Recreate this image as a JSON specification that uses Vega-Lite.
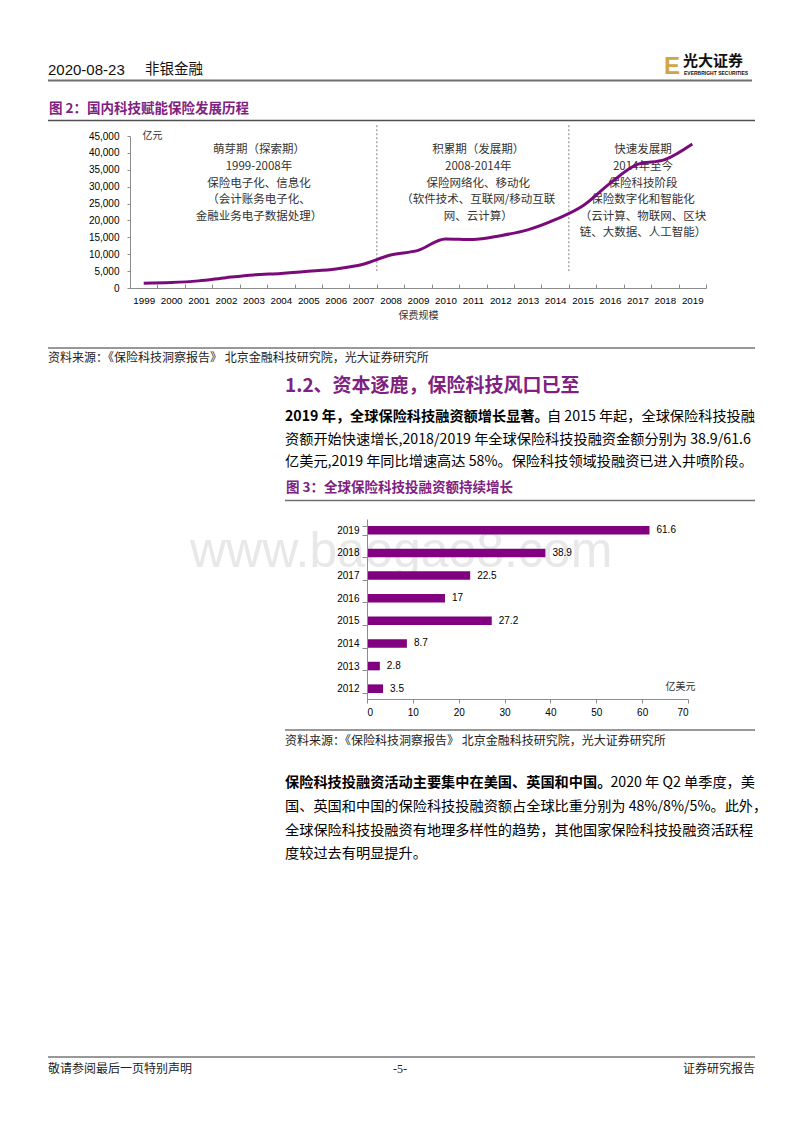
{
"$schema": "https://vega.github.io/schema/vega-lite/v6.json",
"width": 800,
"height": 1132,
"autosize": {"type": "none"},
"padding": 0,
"background": "#ffffff",
"config": {
  "view": {"stroke": null},
  "font": "Noto Sans CJK SC",
  "text": {"font": "Noto Sans CJK SC"},
  "axis": {"labelFont": "Liberation Sans", "titleFont": "Noto Sans CJK SC", "grid": false, "labelColor": "#000000", "titleColor": "#333333", "domainColor": "#8c8c8c", "tickColor": "#8c8c8c", "titleFontWeight": "normal"}
},
"datasets": {
  "premium": [
    {"year": 1999, "premium": 1393}, {"year": 2000, "premium": 1596}, {"year": 2001, "premium": 2109},
    {"year": 2002, "premium": 3053}, {"year": 2003, "premium": 3880}, {"year": 2004, "premium": 4318},
    {"year": 2005, "premium": 4927}, {"year": 2006, "premium": 5641}, {"year": 2007, "premium": 7035},
    {"year": 2008, "premium": 9784}, {"year": 2009, "premium": 11137}, {"year": 2010, "premium": 14528},
    {"year": 2011, "premium": 14339}, {"year": 2012, "premium": 15488}, {"year": 2013, "premium": 17222},
    {"year": 2014, "premium": 20235}, {"year": 2015, "premium": 24283}, {"year": 2016, "premium": 30959},
    {"year": 2017, "premium": 36581}, {"year": 2018, "premium": 38017}, {"year": 2019, "premium": 42645}
  ],
  "phases": [
    {"year": 2003, "lines": ["萌芽期（探索期）", "1999-2008年", "保险电子化、信息化", "（会计账务电子化、", "金融业务电子数据处理）"]},
    {"year": 2011, "lines": ["积累期（发展期）", "2008-2014年", "保险网络化、移动化", "（软件技术、互联网/移动互联", "网、云计算）"]},
    {"year": 2017, "lines": ["快速发展期", "2014年至今", "保险科技阶段", "保险数字化和智能化", "（云计算、物联网、区块", "链、大数据、人工智能）"]}
  ],
  "boundaries": [{"year": 2008}, {"year": 2015}],
  "funding": [
    {"year": 2012, "amount": 3.5}, {"year": 2013, "amount": 2.8}, {"year": 2014, "amount": 8.7},
    {"year": 2015, "amount": 27.2}, {"year": 2016, "amount": 17}, {"year": 2017, "amount": 22.5},
    {"year": 2018, "amount": 38.9}, {"year": 2019, "amount": 61.6}
  ]
},
"layer": [
  {"data": {"values": [{"t": "2020-08-23"}]}, "mark": {"type": "text", "align": "left", "baseline": "alphabetic", "font": "Liberation Sans", "fontSize": 15, "color": "#111111"}, "encoding": {"text": {"field": "t"}, "x": {"value": 48}, "y": {"value": 75}}},
  {"data": {"values": [{"t": "非银金融"}]}, "mark": {"type": "text", "align": "left", "baseline": "alphabetic", "fontSize": 14.5, "color": "#111111"}, "encoding": {"text": {"field": "t"}, "x": {"value": 145}, "y": {"value": 74}}},
  {"data": {"values": [{"t": "E"}]}, "mark": {"type": "text", "align": "left", "baseline": "alphabetic", "font": "Liberation Sans", "fontWeight": "bold", "fontSize": 24, "color": "#d1a544"}, "encoding": {"text": {"field": "t"}, "x": {"value": 664}, "y": {"value": 74}}},
  {"data": {"values": [{"t": "光大证券"}]}, "mark": {"type": "text", "align": "left", "baseline": "middle", "fontWeight": "bold", "fontSize": 15, "color": "#111111"}, "encoding": {"text": {"field": "t"}, "x": {"value": 683}, "y": {"value": 61}}},
  {"data": {"values": [{"t": "EVERBRIGHT SECURITIES"}]}, "mark": {"type": "text", "align": "left", "baseline": "middle", "font": "Liberation Sans", "fontWeight": "bold", "fontSize": 5, "color": "#111111"}, "encoding": {"text": {"field": "t"}, "x": {"value": 684}, "y": {"value": 72.5}}},
  {"data": {"values": [{"r": "header"}]}, "mark": {"type": "rule", "color": "#707070", "strokeWidth": 2}, "encoding": {"x": {"value": 48}, "x2": {"value": 752}, "y": {"value": 80.5}}},
  {"data": {"values": [{"t": "图 2：国内科技赋能保险发展历程"}]}, "mark": {"type": "text", "align": "left", "baseline": "middle", "fontWeight": "bold", "fontSize": 13.5, "color": "#7f2180"}, "encoding": {"text": {"field": "t"}, "x": {"value": 49}, "y": {"value": 108.5}}},
  {"data": {"values": [{"r": "fig2"}]}, "mark": {"type": "rule", "color": "#505050", "strokeWidth": 1.5}, "encoding": {"x": {"value": 48}, "x2": {"value": 755}, "y": {"value": 120.5}}},
  {"data": {"values": [{"r": "src1"}]}, "mark": {"type": "rule", "color": "#333333", "strokeWidth": 1}, "encoding": {"x": {"value": 48}, "x2": {"value": 755}, "y": {"value": 348}}},
  {"data": {"values": [{"t": "资料来源：《保险科技洞察报告》 北京金融科技研究院，光大证券研究所"}]}, "mark": {"type": "text", "align": "left", "baseline": "middle", "fontSize": 12, "color": "#222222"}, "encoding": {"text": {"field": "t"}, "x": {"value": 48}, "y": {"value": 358}}},
  {"data": {"values": [{"t": "1.2、资本逐鹿，保险科技风口已至"}]}, "mark": {"type": "text", "align": "left", "baseline": "middle", "fontWeight": "bold", "fontSize": 19, "color": "#7f2180"}, "encoding": {"text": {"field": "t"}, "x": {"value": 285}, "y": {"value": 386}}},
  {"data": {"values": [{"t": "2019 年，全球保险科技融资额增长显著。"}]}, "mark": {"type": "text", "align": "left", "baseline": "middle", "fontWeight": "bold", "fontSize": 14.2, "color": "#000000"}, "encoding": {"text": {"field": "t"}, "x": {"value": 285}, "y": {"value": 417}}},
  {"data": {"values": [{"t": "自 2015 年起，全球保险科技投融"}]}, "mark": {"type": "text", "align": "right", "baseline": "middle", "fontSize": 14.2, "color": "#000000"}, "encoding": {"text": {"field": "t"}, "x": {"value": 755}, "y": {"value": 417}}},
  {"data": {"values": [{"t": ["资额开始快速增长,2018/2019 年全球保险科技投融资金额分别为 38.9/61.6", "亿美元,2019 年同比增速高达 58%。保险科技领域投融资已进入井喷阶段。"]}]}, "mark": {"type": "text", "align": "left", "baseline": "top", "fontSize": 14.2, "lineHeight": 22, "color": "#000000"}, "encoding": {"text": {"field": "t"}, "x": {"value": 285}, "y": {"value": 433}}},
  {"data": {"values": [{"t": "图 3：全球保险科技投融资额持续增长"}]}, "mark": {"type": "text", "align": "left", "baseline": "middle", "fontWeight": "bold", "fontSize": 13.5, "color": "#7f2180"}, "encoding": {"text": {"field": "t"}, "x": {"value": 286}, "y": {"value": 487.5}}},
  {"data": {"values": [{"r": "fig3"}]}, "mark": {"type": "rule", "color": "#707070", "strokeWidth": 1.5}, "encoding": {"x": {"value": 285}, "x2": {"value": 755}, "y": {"value": 500.5}}},
  {"data": {"values": [{"r": "src2"}]}, "mark": {"type": "rule", "color": "#333333", "strokeWidth": 1}, "encoding": {"x": {"value": 285}, "x2": {"value": 755}, "y": {"value": 730}}},
  {"data": {"values": [{"t": "资料来源：《保险科技洞察报告》 北京金融科技研究院，光大证券研究所"}]}, "mark": {"type": "text", "align": "left", "baseline": "middle", "fontSize": 12, "color": "#222222"}, "encoding": {"text": {"field": "t"}, "x": {"value": 285}, "y": {"value": 741}}},
  {"data": {"values": [{"t": "保险科技投融资活动主要集中在美国、英国和中国。"}]}, "mark": {"type": "text", "align": "left", "baseline": "middle", "fontWeight": "bold", "fontSize": 14.2, "color": "#000000"}, "encoding": {"text": {"field": "t"}, "x": {"value": 285}, "y": {"value": 783}}},
  {"data": {"values": [{"t": "2020 年 Q2 单季度，美"}]}, "mark": {"type": "text", "align": "right", "baseline": "middle", "fontSize": 14.2, "color": "#000000"}, "encoding": {"text": {"field": "t"}, "x": {"value": 755}, "y": {"value": 783}}},
  {"data": {"values": [{"t": ["国、英国和中国的保险科技投融资额占全球比重分别为 48%/8%/5%。此外，", "全球保险科技投融资有地理多样性的趋势，其他国家保险科技投融资活跃程", "度较过去有明显提升。"]}]}, "mark": {"type": "text", "align": "left", "baseline": "top", "fontSize": 14.2, "lineHeight": 23.3, "color": "#000000"}, "encoding": {"text": {"field": "t"}, "x": {"value": 285}, "y": {"value": 800.3}}},
  {"data": {"values": [{"r": "footer"}]}, "mark": {"type": "rule", "color": "#333333", "strokeWidth": 1}, "encoding": {"x": {"value": 48}, "x2": {"value": 755}, "y": {"value": 1057}}},
  {"data": {"values": [{"t": "敬请参阅最后一页特别声明"}]}, "mark": {"type": "text", "align": "left", "baseline": "middle", "fontSize": 12, "color": "#222222"}, "encoding": {"text": {"field": "t"}, "x": {"value": 48}, "y": {"value": 1069}}},
  {"data": {"values": [{"t": "-5-"}]}, "mark": {"type": "text", "align": "center", "baseline": "middle", "font": "Liberation Serif", "fontSize": 12, "color": "#222222"}, "encoding": {"text": {"field": "t"}, "x": {"value": 400}, "y": {"value": 1069}}},
  {"data": {"values": [{"t": "证券研究报告"}]}, "mark": {"type": "text", "align": "right", "baseline": "middle", "fontSize": 12, "color": "#222222"}, "encoding": {"text": {"field": "t"}, "x": {"value": 755}, "y": {"value": 1069}}},
  {
    "layer": [
      {"data": {"name": "phases"},
       "mark": {"type": "text", "align": "center", "baseline": "top", "fontSize": 11.5, "lineHeight": 16.6, "color": "#333333"},
       "encoding": {
         "x": {"field": "year", "type": "ordinal", "bandPosition": 0.7,
               "scale": {"type": "band", "domain": [1999,2000,2001,2002,2003,2004,2005,2006,2007,2008,2009,2010,2011,2012,2013,2014,2015,2016,2017,2018,2019], "range": [130, 706], "paddingInner": 0, "paddingOuter": 0},
               "axis": {"orient": "bottom", "offset": -844, "title": "保费规模", "titleFontSize": 10, "titlePadding": 6, "labelAngle": 0, "labelFontSize": 9.8, "labelOverlap": false, "tickBand": "extent", "tickSize": -4, "labelPadding": 11}},
         "y": {"datum": 42500, "type": "quantitative",
               "scale": {"domain": [0, 45000], "range": [288, 136], "nice": false},
               "axis": {"orient": "left", "offset": -130, "values": [0,5000,10000,15000,20000,25000,30000,35000,40000,45000], "labelExpr": "format(datum.value, ',')", "labelFontSize": 10, "tickSize": 3, "labelPadding": 8, "title": "亿元", "titleAngle": 0, "titleAlign": "left", "titleBaseline": "middle", "titleFontSize": 10, "titleX": 12, "titleY": 135}},
         "text": {"field": "lines"}
       }},
      {"data": {"name": "boundaries"},
       "mark": {"type": "rule", "strokeDash": [2, 2], "color": "#808080", "strokeWidth": 1},
       "encoding": {
         "x": {"field": "year", "type": "ordinal", "bandPosition": 0,
               "scale": {"type": "band", "domain": [1999,2000,2001,2002,2003,2004,2005,2006,2007,2008,2009,2010,2011,2012,2013,2014,2015,2016,2017,2018,2019], "range": [130, 706], "paddingInner": 0, "paddingOuter": 0},
               "axis": {"orient": "bottom", "offset": -844, "title": "保费规模", "titleFontSize": 10, "titlePadding": 6, "labelAngle": 0, "labelFontSize": 9.8, "labelOverlap": false, "tickBand": "extent", "tickSize": -4, "labelPadding": 11}},
         "y": {"datum": 48200, "type": "quantitative",
               "scale": {"domain": [0, 45000], "range": [288, 136], "nice": false},
               "axis": {"orient": "left", "offset": -130, "values": [0,5000,10000,15000,20000,25000,30000,35000,40000,45000], "labelExpr": "format(datum.value, ',')", "labelFontSize": 10, "tickSize": 3, "labelPadding": 8, "title": "亿元", "titleAngle": 0, "titleAlign": "left", "titleBaseline": "middle", "titleFontSize": 10, "titleX": 12, "titleY": 135}},
         "y2": {"datum": 5000}
       }},
      {"data": {"name": "premium"},
       "mark": {"type": "line", "interpolate": "monotone", "color": "#7a0a7a", "strokeWidth": 3},
       "encoding": {
         "x": {"field": "year", "type": "ordinal", "bandPosition": 0.5,
               "scale": {"type": "band", "domain": [1999,2000,2001,2002,2003,2004,2005,2006,2007,2008,2009,2010,2011,2012,2013,2014,2015,2016,2017,2018,2019], "range": [130, 706], "paddingInner": 0, "paddingOuter": 0},
               "axis": {"orient": "bottom", "offset": -844, "title": "保费规模", "titleFontSize": 10, "titlePadding": 6, "labelAngle": 0, "labelFontSize": 9.8, "labelOverlap": false, "tickBand": "extent", "tickSize": -4, "labelPadding": 11}},
         "y": {"field": "premium", "type": "quantitative",
               "scale": {"domain": [0, 45000], "range": [288, 136], "nice": false},
               "axis": {"orient": "left", "offset": -130, "values": [0,5000,10000,15000,20000,25000,30000,35000,40000,45000], "labelExpr": "format(datum.value, ',')", "labelFontSize": 10, "tickSize": 3, "labelPadding": 8, "title": "亿元", "titleAngle": 0, "titleAlign": "left", "titleBaseline": "middle", "titleFontSize": 10, "titleX": 12, "titleY": 135}}
       }}
    ]
  },
  {"data": {"values": [{"t": "www.baogao8.com"}]}, "mark": {"type": "text", "align": "left", "baseline": "middle", "font": "Liberation Sans", "fontSize": 50, "color": "#e8e8e8"}, "encoding": {"text": {"field": "t"}, "x": {"value": 190}, "y": {"value": 552}}},
  {
    "data": {"name": "funding"},
    "encoding": {
      "y": {"field": "year", "type": "ordinal",
            "scale": {"type": "band", "domain": [2019,2018,2017,2016,2015,2014,2013,2012], "range": [519, 700], "paddingInner": 0.62, "paddingOuter": 0.31},
            "axis": {"orient": "left", "offset": -367, "title": null, "tickBand": "extent", "tickSize": 5, "labelPadding": 3, "labelFontSize": 10, "zindex": 1}},
      "x": {"field": "amount", "type": "quantitative",
            "scale": {"domain": [0, 70], "range": [367, 688], "nice": false},
            "axis": {"orient": "bottom", "offset": -433, "values": [0,10,20,30,40,50,60,70], "labelFontSize": 10, "tickSize": 4, "labelPadding": 4, "title": "亿美元", "titleFontSize": 10, "titleAlign": "right", "titleBaseline": "middle", "titleX": 695, "titleY": -13, "zindex": 1}}
    },
    "layer": [
      {"mark": {"type": "bar", "color": "#800080"}},
      {"mark": {"type": "text", "align": "left", "baseline": "middle", "dx": 7, "font": "Liberation Sans", "fontSize": 10, "color": "#000000"},
       "encoding": {"text": {"field": "amount", "type": "quantitative"}}}
    ]
  }
],
"resolve": {"scale": {"x": "independent", "y": "independent"}, "axis": {"x": "independent", "y": "independent"}}
}
